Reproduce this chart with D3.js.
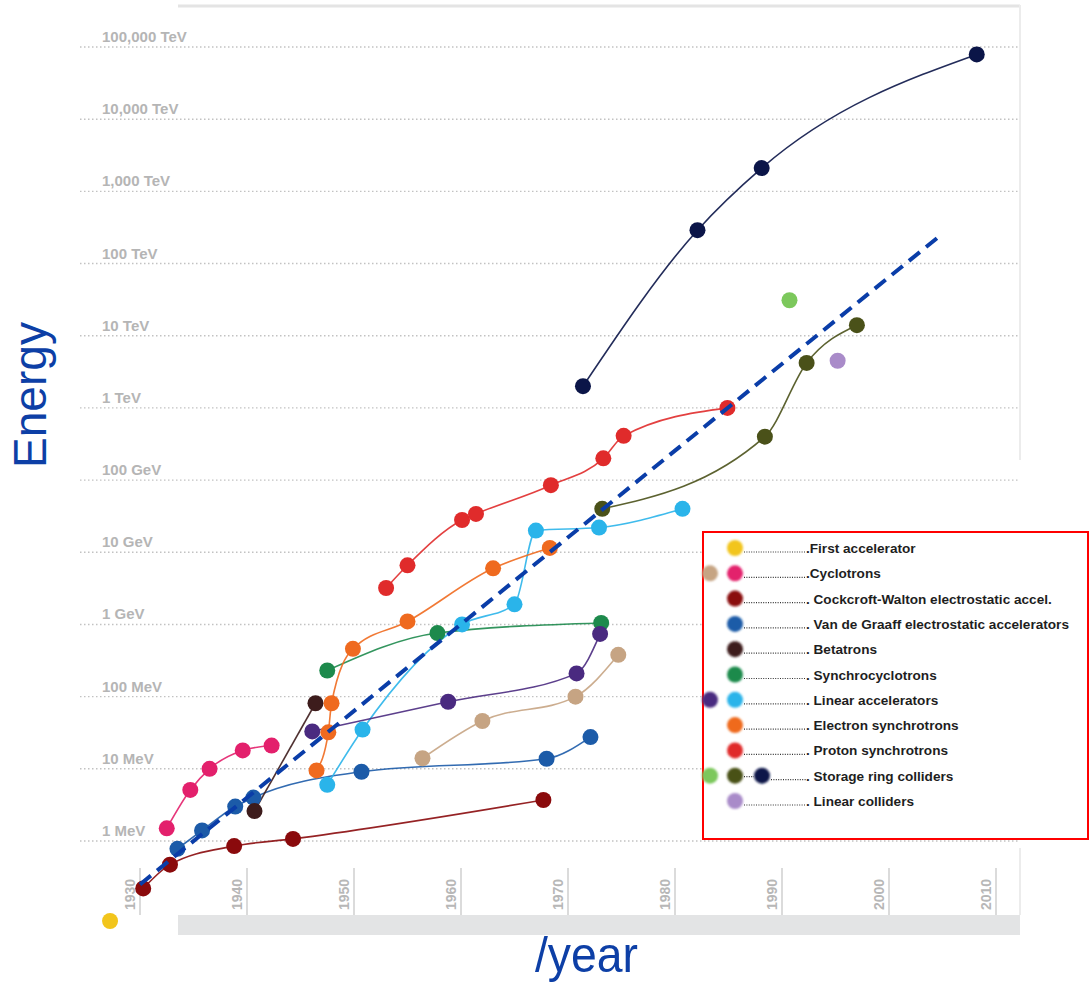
<!DOCTYPE html>
<html>
<head>
<meta charset="utf-8">
<script src="https://cdn.jsdelivr.net/npm/d3@7"></script>
<style>
  body { margin: 0; background: #fff; }
  svg { display: block; }
</style>
</head>
<body>
<svg id="chart" width="1089" height="984"></svg>
<script>
// ---- axis ticks -------------------------------------------------------
const yearTicks = [1930, 1940, 1950, 1960, 1970, 1980, 1990, 2000, 2010];
const energyTicks = [1e6, 1e7, 1e8, 1e9, 1e10, 1e11, 1e12, 1e13, 1e14, 1e15, 1e16, 1e17];
const energyLabels = ["1 MeV", "10 MeV", "100 MeV", "1 GeV", "10 GeV", "100 GeV",
  "1 TeV", "10 TeV", "100 TeV", "1,000 TeV", "10,000 TeV", "100,000 TeV"];

// ---- data: [year, beam energy in eV] ---------------------------------
const firstAccelerator = [[1927.2, 7.8e4]];
const cyclotrons = [[1932.5, 1.5e6], [1934.7, 5.1e6], [1936.5, 1.0e7], [1939.6, 1.8e7], [1942.3, 2.1e7]];
const cyclotronsLate = [[1956.4, 1.4e7], [1962.0, 4.6e7], [1970.7, 1.0e8], [1974.7, 3.8e8]];
const cockcroftWalton = [[1930.3, 2.2e5], [1932.8, 4.7e5], [1938.8, 8.5e5], [1944.3, 1.07e6], [1967.7, 3.7e6]];
const vanDeGraaff = [[1933.5, 7.8e5], [1935.8, 1.4e6], [1938.9, 3.0e6], [1940.6, 4.0e6],
  [1950.7, 9.1e6], [1968.0, 1.38e7], [1972.1, 2.75e7]];
const betatrons = [[1940.7, 2.6e6], [1946.4, 8.1e7]];
const synchrocyclotrons = [[1947.5, 2.3e8], [1957.8, 7.6e8], [1973.1, 1.05e9]];
const linacsIon = [[1946.1, 3.3e7], [1958.8, 8.5e7], [1970.8, 2.1e8], [1973.0, 7.4e8]];
const linacsElectron = [[1947.5, 6.0e6], [1950.8, 3.5e7], [1960.1, 1.0e9], [1965.0, 1.9e9],
  [1967.0, 2.0e10], [1972.9, 2.2e10], [1980.7, 4.0e10]];
const electronSynchrotrons = [[1946.5, 9.5e6], [1947.6, 3.2e7], [1947.9, 8.1e7], [1949.9, 4.6e8],
  [1955.0, 1.1e9], [1963.0, 6.0e9], [1968.3, 1.15e10]];
const protonSynchrotrons = [[1953.0, 3.2e9], [1955.0, 6.6e9], [1960.1, 2.8e10], [1961.4, 3.4e10],
  [1968.4, 8.5e10], [1973.3, 2.0e11], [1975.2, 4.1e11], [1984.9, 1.0e12]];
const collidersElectron = [[1990.7, 3.1e13]];
const collidersHadron = [[1973.2, 4.0e10], [1988.4, 4.0e11], [1992.3, 4.2e12], [1997.0, 1.4e13]];
const collidersEquivalent = [[1971.4, 2.0e12], [1982.1, 2.9e14], [1988.1, 2.1e15], [2008.2, 7.9e16]];
const linearColliders = [[1995.2, 4.5e12]];
const trend = [[1930.0, 2.5e5], [2004.8, 2.45e14]];

// ---- legend ------------------------------------------------------------
const legendLabels = [".First accelerator", ".Cyclotrons", ". Cockcroft-Walton electrostatic accel.",
  ". Van de Graaff electrostatic accelerators", ". Betatrons", ". Synchrocyclotrons",
  ". Linear accelerators", ". Electron synchrotrons", ". Proton synchrotrons",
  ". Storage ring colliders", ". Linear colliders"];

const C = {
  yellow: "#f2c51c", pink: "#e3206c", tan: "#c6a483", darkred: "#8a0a0c", blue: "#1c5ba8",
  brown: "#3d1c1c", green: "#1d8a4c", purple: "#4a2a80", cyan: "#2ab4ea", orange: "#ef6a1f",
  red: "#e02b2b", lightgreen: "#7cc85c", olive: "#4a5119", navy: "#0b1548", lavender: "#a98bc9"
};

// swatches per legend row (each row: list of colours, left to right)
const legendSwatches = [
  [C.yellow], [C.tan, C.pink], [C.darkred], [C.blue], [C.brown], [C.green],
  [C.purple, C.cyan], [C.orange], [C.red], [C.lightgreen, C.olive, C.navy], [C.lavender]
];

// draw order of the series
const series = [
  { data: firstAccelerator, color: C.yellow },
  { data: cyclotrons, color: C.pink },
  { data: cyclotronsLate, color: C.tan },
  { data: cockcroftWalton, color: C.darkred },
  { data: vanDeGraaff, color: C.blue },
  { data: betatrons, color: C.brown },
  { data: synchrocyclotrons, color: C.green },
  { data: linacsElectron, color: C.cyan },
  { data: linacsIon, color: C.purple },
  { data: electronSynchrotrons, color: C.orange },
  { data: protonSynchrotrons, color: C.red },
  { data: collidersHadron, color: C.olive },
  { data: collidersEquivalent, color: C.navy },
  { data: collidersElectron, color: C.lightgreen },
  { data: linearColliders, color: C.lavender }
];

// ---- scales ------------------------------------------------------------
const x = d3.scaleLinear().domain([1930, 2010]).range([140, 996]);
const y = d3.scaleLog().domain([1e6, 1e17]).range([841, 47]);

const svg = d3.select("#chart");
const defs = svg.append("defs");
defs.append("filter").attr("id", "soft")
  .attr("x", "-50%").attr("y", "-50%").attr("width", "200%").attr("height", "200%")
  .append("feGaussianBlur").attr("stdDeviation", 0.9);

// frame: top rule, right rule, bottom band
const plotLeft = 178, plotRight = 1020;
svg.append("line").attr("x1", plotLeft).attr("x2", plotRight).attr("y1", 6).attr("y2", 6)
  .attr("stroke", "#e4e4e4").attr("stroke-width", 3);
svg.append("line").attr("x1", plotRight).attr("x2", plotRight).attr("y1", 5).attr("y2", 460)
  .attr("stroke", "#ececec").attr("stroke-width", 2);
svg.append("line").attr("x1", plotRight).attr("x2", plotRight).attr("y1", 848).attr("y2", 915)
  .attr("stroke", "#ececec").attr("stroke-width", 2);
svg.append("rect").attr("x", plotLeft).attr("y", 915).attr("width", plotRight - plotLeft).attr("height", 20)
  .attr("fill", "#e3e4e5");

// horizontal energy grid with labels
const grid = svg.append("g");
grid.selectAll("line").data(energyTicks).join("line")
  .attr("x1", 80).attr("x2", plotRight)
  .attr("y1", d => y(d)).attr("y2", d => y(d))
  .attr("stroke", "#c2c2c2").attr("stroke-width", 1.4).attr("stroke-dasharray", "1.5,2.5");
grid.selectAll("text").data(energyTicks).join("text")
  .attr("x", 102).attr("y", d => y(d) - 5)
  .attr("font-family", "'Liberation Sans', Arial, Helvetica, sans-serif")
  .attr("font-size", 15).attr("font-weight", "bold").attr("fill", "#b5b5b5")
  .text((d, i) => energyLabels[i]);

// year axis: tick rules and rotated labels
const yearAxis = svg.append("g");
yearAxis.selectAll("line").data(yearTicks).join("line")
  .attr("x1", d => x(d)).attr("x2", d => x(d)).attr("y1", 868).attr("y2", 915)
  .attr("stroke", "#cfcfcf").attr("stroke-width", 1.5);
yearAxis.selectAll("text").data(yearTicks).join("text")
  .attr("transform", d => `translate(${x(d) - 5},910) rotate(-90)`)
  .attr("font-family", "'Liberation Sans', Arial, Helvetica, sans-serif")
  .attr("font-size", 14).attr("font-weight", "bold").attr("fill", "#b7b7b7")
  .text(d => d);

// axis titles
svg.append("text")
  .attr("transform", "translate(46,395) rotate(-90)")
  .attr("text-anchor", "middle")
  .attr("font-family", "'Liberation Sans', Arial, sans-serif")
  .attr("font-size", 46).attr("fill", "#0d3fa6")
  .attr("textLength", 146).attr("lengthAdjust", "spacingAndGlyphs")
  .text("Energy");
svg.append("text")
  .attr("x", 535).attr("y", 972)
  .attr("font-family", "'Liberation Sans', Arial, sans-serif")
  .attr("font-size", 50).attr("fill", "#0d3fa6")
  .attr("textLength", 103).attr("lengthAdjust", "spacingAndGlyphs")
  .text("/year");

// series connecting curves
const line = d3.line().x(d => x(d[0])).y(d => y(d[1])).curve(d3.curveMonotoneX);
const marks = svg.append("g");
marks.selectAll("path.series").data(series.filter(s => s.data.length > 1)).join("path")
  .attr("class", "series")
  .attr("d", s => line(s.data))
  .attr("fill", "none").attr("stroke", s => s.color).attr("stroke-width", 1.6)
  .attr("stroke-opacity", 0.9);

// machines
series.forEach(s => {
  marks.append("g").selectAll("circle").data(s.data).join("circle")
    .attr("cx", d => x(d[0])).attr("cy", d => y(d[1])).attr("r", 8)
    .attr("fill", s.color);
});

// exponential trend
svg.append("path")
  .attr("d", d3.line().x(d => x(d[0])).y(d => y(d[1]))(trend))
  .attr("fill", "none").attr("stroke", "#0a3da8").attr("stroke-width", 4)
  .attr("stroke-dasharray", "14,8");

// ---- legend box ---------------------------------------------------------
const lg = svg.append("g");
lg.append("rect").attr("x", 703).attr("y", 532).attr("width", 385).attr("height", 307)
  .attr("fill", "#fff").attr("stroke", "#ff0000").attr("stroke-width", 2);

const rowY = i => 548 + i * 25.3;
legendSwatches.forEach((cols, i) => {
  const cy = rowY(i);
  let xs;
  if (cols.length === 1) xs = [735];
  else if (cols.length === 2) xs = [710, 735];
  else xs = [710, 735, 762];
  const lastX = xs[xs.length - 1];
  // dotted leader
  lg.append("line").attr("x1", lastX + 9).attr("x2", 806)
    .attr("y1", cy + 4).attr("y2", cy + 4)
    .attr("stroke", "#333").attr("stroke-width", 1.2).attr("stroke-dasharray", "1,1.4");
  if (cols.length === 3) {
    lg.append("line").attr("x1", 744).attr("x2", 754)
      .attr("y1", cy + 1).attr("y2", cy + 1)
      .attr("stroke", "#333").attr("stroke-width", 1.2).attr("stroke-dasharray", "1,1.4");
  }
  cols.forEach((c, k) => {
    lg.append("circle").attr("cx", xs[k]).attr("cy", cy).attr("r", 8)
      .attr("fill", c).attr("filter", "url(#soft)");
  });
  lg.append("text").attr("x", 806).attr("y", cy + 5)
    .attr("font-family", "'Liberation Sans', Arial, sans-serif")
    .attr("font-size", 13.6).attr("font-weight", "bold").attr("fill", "#1e1e1e")
    .text(legendLabels[i]);
});
</script>
</body>
</html>
